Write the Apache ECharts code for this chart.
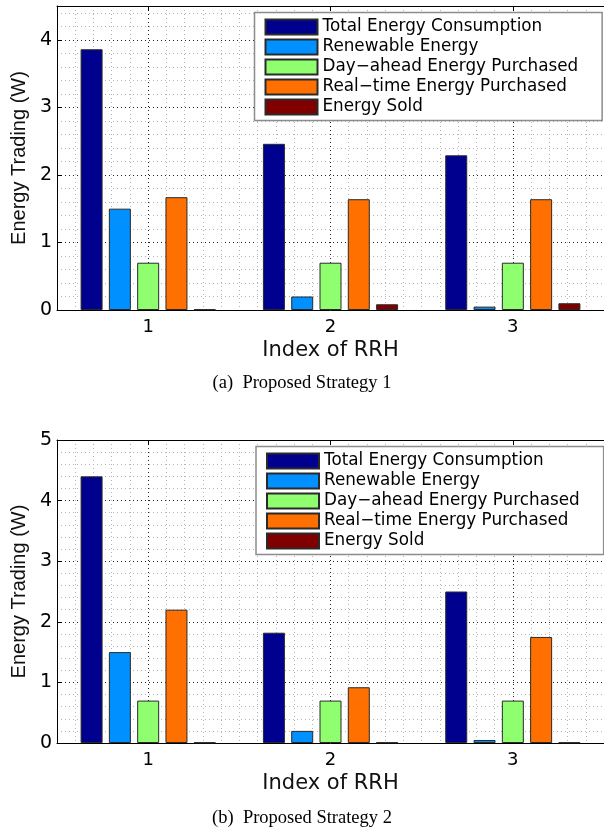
<!DOCTYPE html>
<html>
<head>
<meta charset="utf-8">
<script src="https://cdn.jsdelivr.net/npm/echarts@6/dist/echarts.min.js"></script>
<style>
html,body{margin:0;padding:0;background:#fff;}
#main{width:604px;height:836px;}
</style>
</head>
<body>
<div id="main"></div>
<script>
// ---- data ----
const categories = ['1', '2', '3'];
const seriesNames = ['Total Energy Consumption', 'Renewable Energy', 'Day\u2212ahead Energy Purchased', 'Real\u2212time Energy Purchased', 'Energy Sold'];
const seriesColors = ['#00008F', '#0090FF', '#8FFF70', '#FF7000', '#800000'];

// (a) Proposed Strategy 1
const s1Total     = [3.86, 2.46, 2.29];
const s1Renewable = [1.50, 0.20, 0.05];
const s1DayAhead  = [0.70, 0.70, 0.70];
const s1RealTime  = [1.67, 1.64, 1.64];
const s1Sold      = [0.01, 0.085, 0.10];

// (b) Proposed Strategy 2
const s2Total     = [4.40, 1.82, 2.50];
const s2Renewable = [1.50, 0.20, 0.05];
const s2DayAhead  = [0.70, 0.70, 0.70];
const s2RealTime  = [2.20, 0.92, 1.75];
const s2Sold      = [0.01, 0.01, 0.01];

const yMax1 = 4.5;
const yMax2 = 5;
const captions = ['(a)  Proposed Strategy 1', '(b)  Proposed Strategy 2'];
const xName = 'Index of RRH';
const yName = 'Energy Trading (W)';

// ---- build ----
const chart = echarts.init(document.getElementById('main'), null, {renderer: 'canvas'});

const DOT = [1, 3];
const grids = [
  {left: 57, top: 6, width: 550, height: 304},
  {left: 57, top: 440, width: 550, height: 303}
];
const yMaxes = [yMax1, yMax2];
const data = [
  [s1Total, s1Renewable, s1DayAhead, s1RealTime, s1Sold],
  [s2Total, s2Renewable, s2DayAhead, s2RealTime, s2Sold]
];

const xAxis = [], yAxis = [], series = [];
grids.forEach((g, gi) => {
  const xBase = xAxis.length;
  // minor vertical grid (0.1 of category spacing)
  xAxis.push({
    type: 'value', gridIndex: gi, min: 0.5, max: 3.5, interval: 0.1,
    axisLine: {show: false}, axisTick: {show: false}, axisLabel: {show: false},
    splitLine: {show: true, lineStyle: {color: '#b4b4b4', type: DOT, width: 1}}
  });
  // major vertical grid at category centres
  xAxis.push({
    type: 'value', gridIndex: gi, min: 0.5, max: 3.5, interval: 0.5,
    axisLine: {show: false}, axisTick: {show: false}, axisLabel: {show: false},
    splitLine: {show: true, lineStyle: {color: ['rgba(0,0,0,0)', '#222'], type: DOT, width: 1}}
  });
  // bottom category axis
  xAxis.push({
    type: 'category', gridIndex: gi, data: categories, position: 'bottom',
    axisLine: {show: true, lineStyle: {color: '#000', width: 1}},
    axisTick: {show: true, inside: true, alignWithLabel: true, length: 5, lineStyle: {color: '#000'}},
    axisLabel: {color: '#000', fontFamily: 'DejaVu Sans', fontSize: 18, margin: 8},
    splitLine: {show: false},
    name: xName, nameLocation: 'middle', nameGap: 30,
    nameTextStyle: {color: '#111', fontFamily: 'DejaVu Sans', fontSize: 21}
  });
  // top box edge
  xAxis.push({
    type: 'category', gridIndex: gi, data: categories, position: 'top',
    axisLine: {show: true, lineStyle: {color: '#000', width: 1}},
    axisTick: {show: true, inside: true, alignWithLabel: true, length: 5, lineStyle: {color: '#000'}},
    axisLabel: {show: false}, splitLine: {show: false}
  });

  const yBase = yAxis.length;
  yAxis.push({
    type: 'value', gridIndex: gi, min: 0, max: yMaxes[gi], interval: 0.2, position: 'right',
    axisLine: {show: false}, axisTick: {show: false}, axisLabel: {show: false},
    splitLine: {show: true, lineStyle: {color: '#b4b4b4', type: DOT, width: 1}}
  });
  yAxis.push({
    type: 'value', gridIndex: gi, min: 0, max: yMaxes[gi], interval: 1, position: 'left',
    axisLine: {show: true, lineStyle: {color: '#000', width: 1}},
    axisTick: {show: true, inside: true, length: 5, lineStyle: {color: '#000'}},
    axisLabel: {color: '#000', fontFamily: 'DejaVu Sans', fontSize: 19, margin: 5,
                showMaxLabel: Number.isInteger(yMaxes[gi])},
    splitLine: {show: true, lineStyle: {color: '#222', type: DOT, width: 1}},
    name: yName, nameLocation: 'middle', nameGap: 26,
    nameTextStyle: {color: '#111', fontFamily: 'Liberation Sans', fontSize: 20}
  });

  data[gi].forEach((vals, si) => {
    series.push({
      type: 'bar', name: seriesNames[si], data: vals,
      xAxisIndex: xBase + 2, yAxisIndex: yBase + 1,
      barWidth: 22, barGap: '28.6%',
      itemStyle: {color: seriesColors[si], borderColor: '#2a2a2a', borderWidth: 1},
      emphasis: {disabled: true}
    });
  });
});

const legendBase = {
  orient: 'vertical', icon: 'rect', itemWidth: 52, itemHeight: 15, itemGap: 3,
  padding: [6, 24, 5, 10], backgroundColor: '#fff', borderColor: '#8c8c8c', borderWidth: 1.5,
  selectedMode: false, data: seriesNames,
  textStyle: {color: '#000', fontFamily: 'DejaVu Sans', fontSize: 16.8, lineHeight: 15}
};

chart.setOption({
  animation: false,
  backgroundColor: '#fff',
  grid: grids,
  xAxis: xAxis,
  yAxis: yAxis,
  legend: [
    Object.assign({}, legendBase, {left: 254.5, top: 12.5}),
    Object.assign({}, legendBase, {left: 256, top: 446.5})
  ],
  title: [
    {text: captions[0], left: 'center', top: 374, padding: 0,
     textStyle: {color: '#000', fontFamily: 'Liberation Serif', fontWeight: 'normal', fontSize: 18.5}},
    {text: captions[1], left: 'center', top: 809, padding: 0,
     textStyle: {color: '#000', fontFamily: 'Liberation Serif', fontWeight: 'normal', fontSize: 18.5}}
  ],
  series: series
});
</script>
</body>
</html>
